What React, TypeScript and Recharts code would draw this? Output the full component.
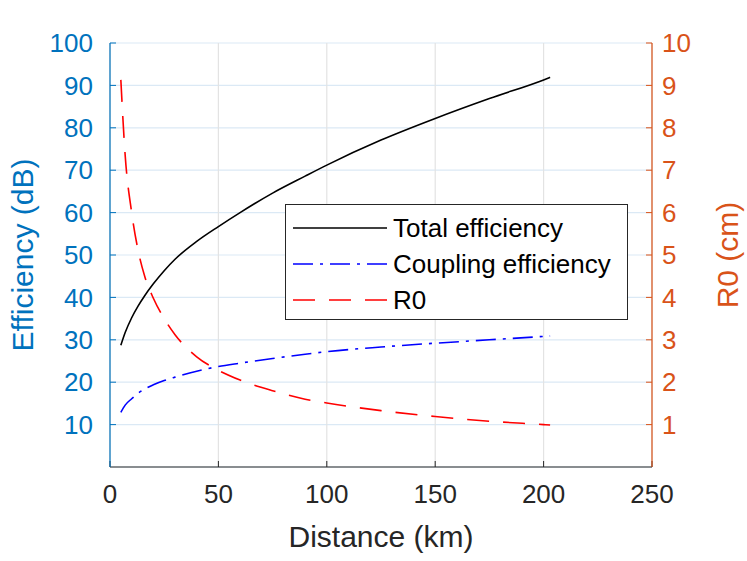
import React from 'react';
import { LineChart, Line, XAxis, YAxis, CartesianGrid, Legend } from 'recharts';

// values
const distance = [5, 7, 10, 13, 16, 20, 25, 30, 40, 50, 60, 75, 90, 100, 125, 150, 175, 200, 203];
const totalEfficiency = [28.7, 31.7, 35.2, 38.0, 40.4, 43.2, 46.3, 49.0, 53.2, 56.7, 60.0, 64.6, 68.6, 71.2, 77.1, 82.2, 86.9, 91.3, 91.9];
const couplingEfficiency = [12.9, 14.6, 16.1, 17.4, 18.4, 19.4, 20.4, 21.2, 22.6, 23.7, 24.5, 25.6, 26.6, 27.2, 28.3, 29.2, 30.0, 30.8, 30.9];
const r0 = [9.13, 7.35, 6.0, 5.1, 4.5, 3.98, 3.5, 3.12, 2.6, 2.28, 2.05, 1.8, 1.6, 1.51, 1.33, 1.19, 1.08, 1.0, 0.99];

const xTicks = [0, 50, 100, 150, 200, 250];
const leftTicks = [10, 20, 30, 40, 50, 60, 70, 80, 90, 100];
const rightTicks = [1, 2, 3, 4, 5, 6, 7, 8, 9, 10];

const series = [
  { key: 'total', name: 'Total efficiency', color: '#000000', dash: undefined },
  { key: 'coupling', name: 'Coupling efficiency', color: '#0000ff', dash: '20 7 3 7' },
  { key: 'r0', name: 'R0', color: '#ff0000', dash: '22 14' },
];

const data = distance.map((x, i) => ({
  x,
  total: totalEfficiency[i],
  coupling: couplingEfficiency[i],
  r0: r0[i],
}));

const FONT = '"Liberation Sans", Arial, Helvetica, sans-serif';
const BLUE = '#0072bd';
const ORANGE = '#d95319';
const DARK = '#262626';

const renderLegend = () => (
  <div
    style={{
      width: 343,
      height: 116,
      border: '1.5px solid #262626',
      background: '#fff',
      fontFamily: FONT,
      fontSize: 26,
      color: '#000',
      boxSizing: 'border-box',
      paddingTop: 5,
    }}
  >
    {series.map((s) => (
      <div key={s.key} style={{ display: 'flex', alignItems: 'center', height: 36 }}>
        <svg width={100} height={10} style={{ marginLeft: 5 }}>
          <line x1={2} y1={5} x2={96} y2={5} stroke={s.color} strokeWidth={1.5} strokeDasharray={s.dash} />
        </svg>
        <span style={{ marginLeft: 2 }}>{s.name}</span>
      </div>
    ))}
  </div>
);

const LeftLabel = ({ viewBox }: any) => (
  <text
    x={viewBox.x - 17}
    y={viewBox.y + viewBox.height / 2}
    transform={`rotate(-90 ${viewBox.x - 17} ${viewBox.y + viewBox.height / 2})`}
    textAnchor="middle"
    fill={BLUE}
    fontSize={30}
    fontFamily={FONT}
  >
    Efficiency (dB)
  </text>
);

const RightLabel = ({ viewBox }: any) => (
  <text
    x={viewBox.x + 86}
    y={viewBox.y + viewBox.height / 2}
    transform={`rotate(-90 ${viewBox.x + 86} ${viewBox.y + viewBox.height / 2})`}
    textAnchor="middle"
    fill={ORANGE}
    fontSize={30}
    fontFamily={FONT}
  >
    R0 (cm)
  </text>
);

const BottomLabel = ({ viewBox }: any) => (
  <text
    x={viewBox.x + viewBox.width / 2}
    y={viewBox.y + 80}
    textAnchor="middle"
    fill={DARK}
    fontSize={30}
    fontFamily={FONT}
  >
    Distance (km)
  </text>
);

export default function App() {
  return (
    <div style={{ position: 'absolute', left: 0, top: 0, width: 747, height: 561, background: '#fff' }}>
      <LineChart
        width={747}
        height={561}
        data={data}
        margin={{ top: 43, right: 35, bottom: 34, left: 50 }}
        style={{ fontFamily: FONT }}
      >
        <CartesianGrid yAxisId="left" vertical={false} stroke="#dbe9f5" strokeWidth={1.2} />
        <CartesianGrid yAxisId="left" horizontal={false} stroke="#e3e3e3" strokeWidth={1.2} />
        <XAxis
          xAxisId="top"
          orientation="top"
          dataKey="x"
          type="number"
          domain={[0, 250]}
          ticks={xTicks}
          height={0}
          tick={false}
          tickSize={-6}
          stroke={DARK}
          axisLine={{ stroke: DARK, strokeWidth: 1.2 }}
        />
        <XAxis
          dataKey="x"
          type="number"
          domain={[0, 250]}
          ticks={xTicks}
          height={60}
          tickSize={-6}
          tickMargin={24}
          stroke={DARK}
          axisLine={{ stroke: DARK, strokeWidth: 1.2 }}
          tick={{ fill: DARK, fontSize: 26, fontFamily: FONT }}
          label={<BottomLabel />}
        />
        <YAxis
          yAxisId="left"
          domain={[0, 100]}
          ticks={leftTicks}
          width={60}
          tickSize={-6}
          tickMargin={23}
          stroke={BLUE}
          axisLine={{ stroke: BLUE, strokeWidth: 1.2 }}
          tick={{ fill: BLUE, fontSize: 26, fontFamily: FONT }}
          label={<LeftLabel />}
        />
        <YAxis
          yAxisId="right"
          orientation="right"
          domain={[0, 10]}
          ticks={rightTicks}
          width={60}
          tickSize={-6}
          tickMargin={16}
          stroke={ORANGE}
          axisLine={{ stroke: ORANGE, strokeWidth: 1.2 }}
          tick={{ fill: ORANGE, fontSize: 26, fontFamily: FONT }}
          label={<RightLabel />}
        />
        <Legend
          layout="horizontal"
          verticalAlign="middle"
          align="center"
          content={renderLegend}
          wrapperStyle={{ position: 'absolute', left: 285, top: 204, width: 343, height: 116 }}
        />
        <Line
          yAxisId="left"
          type="monotone"
          dataKey="total"
          name="Total efficiency"
          stroke="#000000"
          strokeWidth={1.6}
          dot={false}
          isAnimationActive={false}
        />
        <Line
          yAxisId="left"
          type="monotone"
          dataKey="coupling"
          name="Coupling efficiency"
          stroke="#0000ff"
          strokeWidth={1.6}
          strokeDasharray="20 7 3 7"
          dot={false}
          isAnimationActive={false}
        />
        <Line
          yAxisId="right"
          type="monotone"
          dataKey="r0"
          name="R0"
          stroke="#ff0000"
          strokeWidth={1.6}
          strokeDasharray="22 14"
          dot={false}
          isAnimationActive={false}
        />
      </LineChart>
    </div>
  );
}
